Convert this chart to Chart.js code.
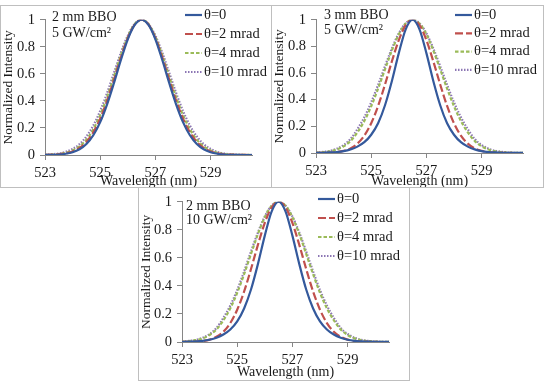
<!DOCTYPE html>
<html>
<head>
<meta charset="utf-8">
<script src="https://cdn.jsdelivr.net/npm/chart.js@4.4.1/dist/chart.umd.min.js"></script>
<style>
body { margin: 0; background: #fff; width: 545px; height: 382px; position: relative; overflow: hidden; }
.panel { position: absolute; border: 1px solid #bfbfbf; background: #fff; }
canvas { display: block; }
</style>
</head>
<body>
<div class="panel" style="left:0px;top:5px;width:270px;height:181px"><canvas id="chartA" width="270" height="181"></canvas></div>
<div class="panel" style="left:271px;top:5px;width:271px;height:181px"><canvas id="chartB" width="271" height="181"></canvas></div>
<div class="panel" style="left:138px;top:187px;width:270px;height:192px"><canvas id="chartC" width="270" height="192"></canvas></div>
<script>
// wavelength grid (nm)
const wavelength = [523, 523.25, 523.5, 523.75, 524, 524.25, 524.5, 524.75, 525, 525.25, 525.5, 525.75,
    526, 526.25, 526.5, 526.75, 527, 527.25, 527.5, 527.75, 528, 528.25, 528.5, 528.75, 529, 529.25,
    529.5, 529.75, 530, 530.25, 530.5];
const tickValues = [523, 525, 527, 529];
const seriesNames = ['θ=0', 'θ=2 mrad', 'θ=4 mrad', 'θ=10 mrad'];

// 2 mm BBO, 5 GW/cm2
const a_theta0 = [0.0005, 0.0013, 0.0035, 0.009, 0.02, 0.042, 0.081, 0.146, 0.243, 0.375, 0.533, 0.702, 0.855, 0.961, 1,
    0.961, 0.855, 0.702, 0.533, 0.375, 0.243, 0.146, 0.081, 0.042, 0.02, 0.009, 0.0035, 0.0013, 0.0005, 0.0001, 0];
const a_theta2 = [0.0008, 0.0021, 0.0052, 0.012, 0.026, 0.052, 0.097, 0.168, 0.269, 0.402, 0.558, 0.72, 0.864, 0.964, 1,
    0.964, 0.864, 0.72, 0.558, 0.402, 0.269, 0.168, 0.097, 0.052, 0.026, 0.012, 0.0052, 0.0021, 0.0008, 0.0003, 0.0001];
const a_theta4 = [0.0013, 0.0032, 0.0076, 0.0165, 0.034, 0.064, 0.114, 0.19, 0.295, 0.428, 0.581, 0.737, 0.873, 0.967, 1,
    0.967, 0.873, 0.737, 0.581, 0.428, 0.295, 0.19, 0.114, 0.064, 0.034, 0.0165, 0.0076, 0.0032, 0.0013, 0.0005, 0.0002];
const a_theta10 = [0.0023, 0.0052, 0.0113, 0.023, 0.045, 0.08, 0.137, 0.218, 0.326, 0.459, 0.608, 0.756, 0.883, 0.969, 1,
    0.969, 0.883, 0.756, 0.608, 0.459, 0.326, 0.218, 0.137, 0.08, 0.045, 0.023, 0.0113, 0.0052, 0.0023, 0.001, 0.0004];

// 3 mm BBO, 5 GW/cm2
const b_theta0 = [0.001, 0.002, 0.004, 0.007, 0.014, 0.027, 0.048, 0.081, 0.137, 0.223, 0.358, 0.54, 0.749, 0.928, 1,
    0.928, 0.749, 0.54, 0.358, 0.223, 0.137, 0.081, 0.048, 0.027, 0.014, 0.007, 0.004, 0.002, 0.001, 0.0005, 0.0003];
const b_theta2 = [0.0003, 0.0009, 0.0025, 0.0065, 0.016, 0.034, 0.07, 0.13, 0.223, 0.353, 0.514, 0.688, 0.847, 0.959, 1,
    0.959, 0.847, 0.688, 0.514, 0.353, 0.223, 0.13, 0.07, 0.034, 0.016, 0.0065, 0.0025, 0.0009, 0.0003, 0.0001, 0];
const b_theta4 = [0.0028, 0.006, 0.013, 0.026, 0.05, 0.09, 0.155, 0.24, 0.351, 0.483, 0.628, 0.769, 0.89, 0.971, 1,
    0.971, 0.89, 0.769, 0.628, 0.483, 0.351, 0.24, 0.155, 0.09, 0.05, 0.026, 0.013, 0.006, 0.0028, 0.0012, 0.0005];
const b_theta10 = [0.0037, 0.008, 0.016, 0.032, 0.06, 0.105, 0.179, 0.268, 0.38, 0.511, 0.651, 0.785, 0.898, 0.973, 1,
    0.973, 0.898, 0.785, 0.651, 0.511, 0.38, 0.268, 0.179, 0.105, 0.06, 0.032, 0.016, 0.008, 0.0037, 0.0016, 0.0007];

// 2 mm BBO, 10 GW/cm2
const c_theta0 = [0.0011, 0.0022, 0.0045, 0.008, 0.016, 0.03, 0.053, 0.089, 0.147, 0.239, 0.374, 0.555, 0.758, 0.931, 1,
    0.931, 0.758, 0.555, 0.374, 0.239, 0.147, 0.089, 0.053, 0.03, 0.016, 0.008, 0.0045, 0.0022, 0.0011, 0.0005, 0.0003];
const c_theta2 = [0.0003, 0.001, 0.0028, 0.0071, 0.017, 0.037, 0.073, 0.135, 0.23, 0.36, 0.52, 0.692, 0.849, 0.96, 1,
    0.96, 0.849, 0.692, 0.52, 0.36, 0.23, 0.135, 0.073, 0.037, 0.017, 0.0071, 0.0028, 0.001, 0.0003, 0.0001, 0];
const c_theta4 = [0.0028, 0.006, 0.013, 0.026, 0.05, 0.09, 0.155, 0.24, 0.351, 0.483, 0.628, 0.769, 0.89, 0.971, 1,
    0.971, 0.89, 0.769, 0.628, 0.483, 0.351, 0.24, 0.155, 0.09, 0.05, 0.026, 0.013, 0.006, 0.0028, 0.0012, 0.0005];
const c_theta10 = [0.0035, 0.0075, 0.015, 0.03, 0.057, 0.1, 0.172, 0.26, 0.37, 0.503, 0.645, 0.78, 0.895, 0.972, 1,
    0.972, 0.895, 0.78, 0.645, 0.503, 0.37, 0.26, 0.172, 0.1, 0.057, 0.03, 0.015, 0.0075, 0.0035, 0.0015, 0.0006];

const lineColors = ['#34599c', '#c0504d', '#9bbb59', '#8c76b4'];
const lineDashes = [[], [8, 3], [3.5, 2], [1.5, 1.5]];
const serif = '"Liberation Serif", "Times New Roman", serif';
const textColor = '#1a1a1a';

// legend + note drawn inside the plot, like the Excel original
const insideLegend = {
    id: 'insideLegend',
    afterDraw(chart, args, o) {
        const ctx = chart.ctx;
        ctx.save();
        ctx.font = '14.5px ' + serif;
        ctx.textBaseline = 'middle';
        ctx.fillStyle = textColor;
        chart.data.datasets.forEach((ds, i) => {
            const y = o.y + i * o.gap;
            ctx.strokeStyle = ds.borderColor;
            ctx.lineWidth = ds.borderWidth;
            ctx.setLineDash(ds.borderDash);
            ctx.beginPath();
            ctx.moveTo(o.x, y);
            ctx.lineTo(o.x + 17, y);
            ctx.stroke();
            ctx.setLineDash([]);
            ctx.fillText(ds.label, o.x + 19, y);
        });
        ctx.font = '14px ' + serif;
        o.note.forEach((t, i) => ctx.fillText(t, o.noteX, o.noteY + i * o.noteGap));
        ctx.restore();
    }
};

function makeChart(id, series, o) {
    const datasets = series.map((vals, i) => ({
        label: seriesNames[i],
        data: wavelength.map((w, j) => ({ x: w, y: vals[j] })),
        borderColor: lineColors[i],
        borderDash: lineDashes[i],
        borderWidth: 2.2,
        pointRadius: 0,
        fill: false,
        cubicInterpolationMode: 'monotone'
    }));

    new Chart(document.getElementById(id), {
        type: 'line',
        data: { datasets: datasets },
        options: {
            responsive: false,
            animation: false,
            devicePixelRatio: 1,
            layout: { padding: { top: o.top, right: o.right, left: 0, bottom: 0 } },
            plugins: {
                legend: { display: false },
                tooltip: { enabled: false },
                insideLegend: o.legend
            },
            scales: {
                x: {
                    type: 'linear',
                    min: 523,
                    max: 530.5,
                    afterBuildTicks: s => { s.ticks = tickValues.map(v => ({ value: v })); },
                    afterFit: s => { s.height = o.xh; },
                    ticks: { font: { family: serif, size: 14.5 }, color: textColor, padding: 4, maxRotation: 0 },
                    grid: { drawOnChartArea: false, tickLength: 5, color: '#868686' },
                    border: { color: '#868686' },
                    title: {
                        display: true, text: 'Wavelength (nm)', color: textColor,
                        font: { family: serif, size: 14, lineHeight: 1 },
                        padding: { top: 0, bottom: o.xTitlePad }
                    }
                },
                y: {
                    min: 0,
                    max: 1,
                    afterFit: s => { s.width = o.yw; },
                    ticks: {
                        stepSize: 0.2, font: { family: serif, size: 14.5 }, color: textColor, padding: 5,
                        callback: v => String(Math.round(v * 10) / 10)
                    },
                    grid: { drawOnChartArea: false, tickLength: 5, color: '#868686' },
                    border: { color: '#868686' },
                    title: {
                        display: true, text: 'Normalized Intensity', color: textColor,
                        font: { family: serif, size: 13.5, lineHeight: 1 },
                        padding: { top: 1, bottom: 0 }
                    }
                }
            }
        },
        plugins: [insideLegend]
    });
}

makeChart('chartA', [a_theta0, a_theta2, a_theta4, a_theta10], {
    top: 12, right: 19, yw: 44, xh: 32, xTitlePad: -1,
    legend: { x: 184, y: 9, gap: 19, note: ['2 mm BBO', '5 GW/cm²'], noteX: 51, noteY: 11.5, noteGap: 15.5 }
});

makeChart('chartB', [b_theta0, b_theta2, b_theta4, b_theta10], {
    top: 10, right: 20, yw: 44, xh: 34, xTitlePad: -1,
    legend: { x: 183, y: 9, gap: 18.3, note: ['3 mm BBO', '5 GW/cm²'], noteX: 52, noteY: 9.5, noteGap: 14.5 }
});

makeChart('chartC', [c_theta0, c_theta2, c_theta4, c_theta10], {
    top: 13, right: 20, yw: 43, xh: 38, xTitlePad: 1,
    legend: { x: 179, y: 11, gap: 19, note: ['2 mm BBO', '10 GW/cm²'], noteX: 47, noteY: 18.5, noteGap: 14 }
});
</script>
</body>
</html>
